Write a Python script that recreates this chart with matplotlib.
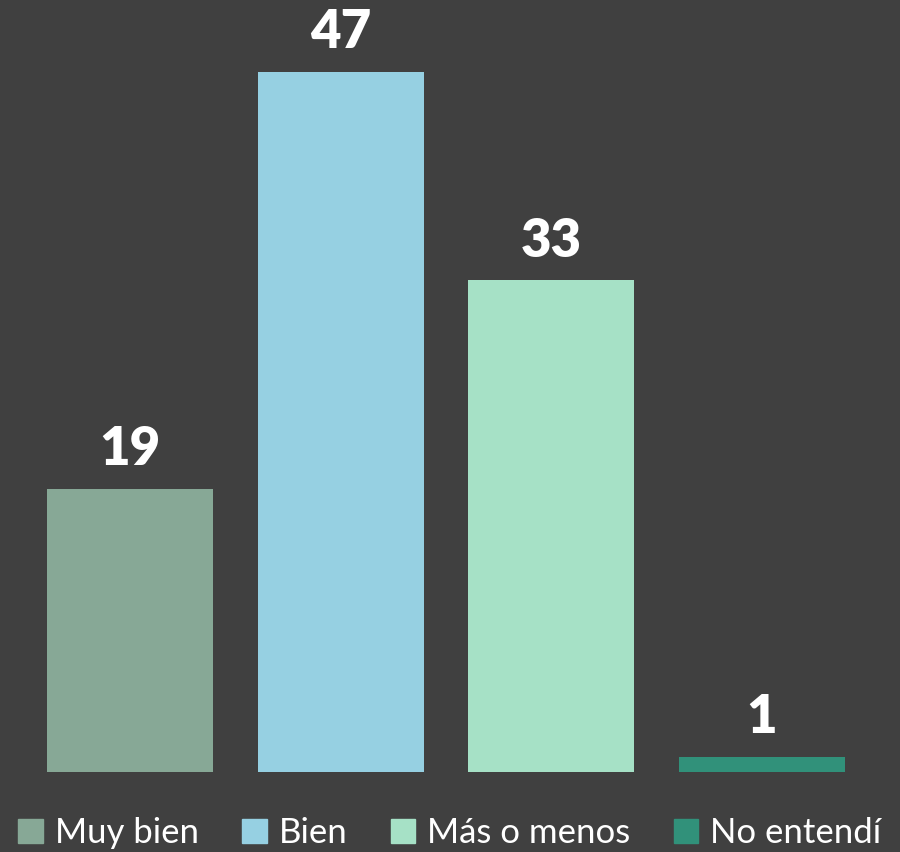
import matplotlib
matplotlib.use("Agg")
import matplotlib.pyplot as plt

categories = ["Muy bien", "Bien", "Más o menos", "No entendí"]
values = [19, 47, 33, 1]
colors = ["#87A896", "#96D0E2", "#A6E1C6", "#31917A"]
bg = "#404040"

plt.rcParams['font.family'] = ['Lato', 'DejaVu Sans']

fig = plt.figure(figsize=(9, 8.52), dpi=100, facecolor=bg)
ax = fig.add_axes([25/900, 80/852, 842/900, 745/852])
ax.set_facecolor(bg)

x = list(range(len(categories)))
bars = ax.bar(x, values, width=0.79, color=colors, label=categories)
for xi, v in zip(x, values):
    ax.annotate(str(v), (xi, v), xytext=(0, 17), textcoords="offset points",
                ha="center", va="baseline", color="white", fontsize=38,
                fontweight="heavy")
ax.set_xlim(-0.5, 3.5)
ax.set_ylim(0, 50)
ax.axis("off")

handles = [plt.Rectangle((0, 0), 1, 1, color=c) for c in colors]
leg = fig.legend(handles, categories, loc="center", bbox_to_anchor=(0.5, 1 - 833/852),
                 ncol=4, frameon=False, fontsize=25, labelcolor="white",
                 handlelength=0.7, handleheight=0.7, handletextpad=0.35,
                 columnspacing=1.25, borderaxespad=0)

fig.savefig("out.png", dpi=100, facecolor=bg)
